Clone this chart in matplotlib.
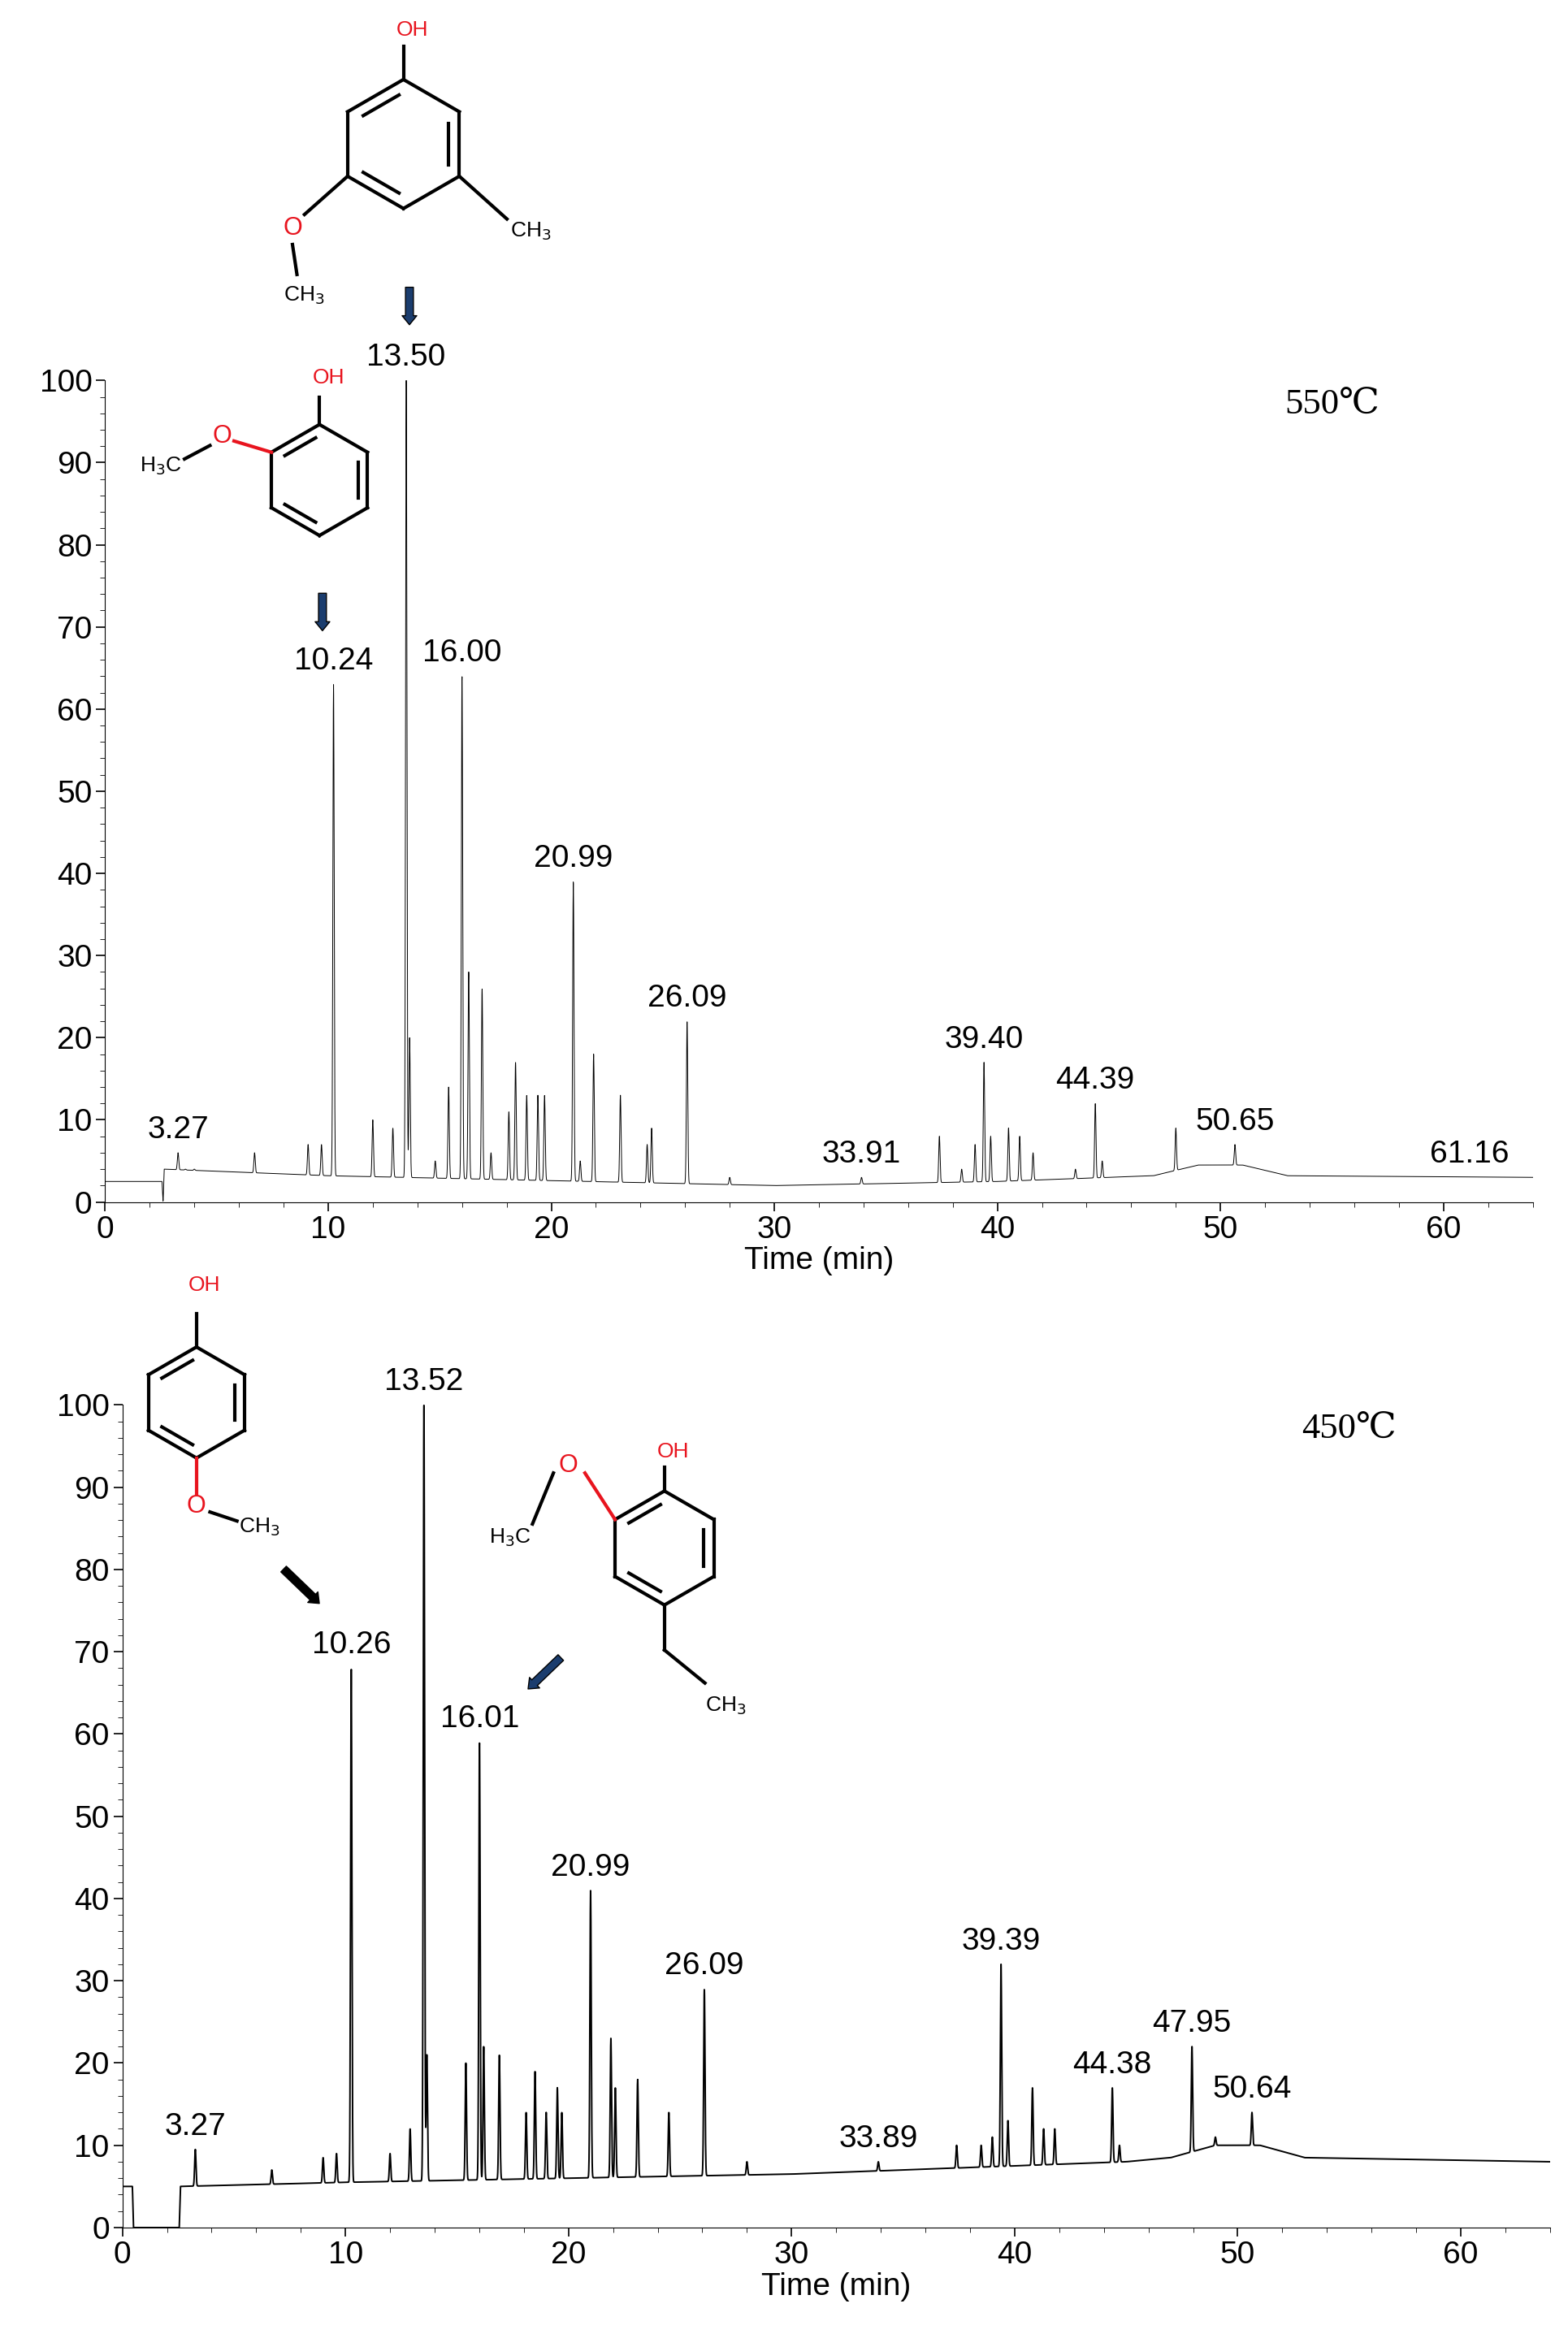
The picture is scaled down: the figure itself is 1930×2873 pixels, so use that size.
import numpy as np
import matplotlib
matplotlib.use("Agg")
import matplotlib.pyplot as plt

plt.rcParams['font.family'] = ['Liberation Sans', 'DejaVu Sans']

# ---- data ----
top_peak_t = [3.27,3.6,4.0,6.7,9.1,9.7,10.24,12.0,12.9,13.50,13.65,14.8,15.4,16.00,16.3,16.9,17.3,18.1,18.4,18.9,19.4,19.7,20.99,21.3,21.9,23.1,24.3,24.5,26.09,28.0,33.91,37.4,38.4,39.0,39.40,39.7,40.5,41.0,41.6,43.5,44.39,44.7,48.0,50.65]
top_peak_h = [6,4,4,6,7,7,63,10,9,100,20,5,14,64,28,26,6,11,17,13,13,13,39,5,18,13,7,9,22,3,3,8,4,7,17,8,9,8,6,4,12,5,9,7]
top_base_t = [0,2.55,2.6,2.65,10,20,30,40,45,47,49,51,53,64]
top_base_h = [2.5,2.5,0,4,3.2,2.6,2.0,2.5,3,3.2,4.5,4.5,3.2,3.0]
top_labels = ["3.27","10.24","13.50","16.00","20.99","26.09","33.91","39.40","44.39","50.65","61.16"]
top_label_pos = [(3.27,6),(10.24,63),(13.50,100),(16.00,64),(20.99,39),(26.09,22),(33.91,3),(39.40,17),(44.39,12),(50.65,7),(61.16,3)]

bot_peak_t = [3.27,6.7,9.0,9.6,10.26,12.0,12.9,13.52,13.65,15.4,16.01,16.2,16.9,18.1,18.5,19.0,19.5,19.7,20.99,21.9,22.1,23.1,24.5,26.09,28.0,33.89,37.4,38.5,39.0,39.39,39.7,40.8,41.3,41.8,44.38,44.7,47.95,49.0,50.64]
bot_peak_h = [9.5,7,8.5,9,68,9,12,100,21,20,59,22,21,14,19,14,17,14,41,23,17,18,14,29,8,8,10,10,11,32,13,17,12,12,17,10,22,11,14]
bot_base_t = [0,0.45,0.5,2.55,2.6,10,20,30,35,40,45,47,49,51,53,64]
bot_base_h = [5,5,0,0,5,5.5,6,6.5,7,7.5,8,8.5,10,10,8.5,8]
bot_labels = ["3.27","10.26","13.52","16.01","20.99","26.09","33.89","39.39","44.38","47.95","50.64"]
bot_label_pos = [(3.27,9.5),(10.26,68),(13.52,100),(16.01,59),(20.99,41),(26.09,29),(33.89,8),(39.39,32),(44.38,17),(47.95,22),(50.64,14)]

W, H = 1931, 2873
fig = plt.figure(figsize=(W/100, H/100), dpi=100)

def trace(bt, bh, pt, ph):
    t = np.linspace(0, 64, 12000)
    base = np.interp(t, bt, bh)
    y = base.copy()
    for c, h in zip(pt, ph):
        b = np.interp(c, bt, bh)
        y += (h - b) * np.exp(-0.5 * ((t - c) / 0.03) ** 2)
    return t, y

def panel(rect, bt, bh, pt, ph, labels, lpos, lw, title):
    ax = fig.add_axes(rect)
    t, y = trace(bt, bh, pt, ph)
    ax.plot(t, y, color="black", lw=lw)
    ax.set_xlim(0, 64); ax.set_ylim(0, 100)
    ax.set_xticks(range(0, 61, 10)); ax.set_yticks(range(0, 101, 10))
    ax.set_yticks(range(0, 101, 2), minor=True)
    ax.set_xticks(range(0, 65, 2), minor=True)
    ax.tick_params(labelsize=28, length=8, width=1.2)
    ax.tick_params(which="minor", length=4)
    for s in ["top", "right"]:
        ax.spines[s].set_visible(False)
    ax.set_xlabel("Time (min)", fontsize=28, labelpad=2)
    for lab, (x, yy) in zip(labels, lpos):
        ax.text(x, yy + 1.0, lab, ha="center", va="bottom", fontsize=28)
    ax.text(55, 97, title, fontsize=32, ha="center", va="center",
            family=["Liberation Serif", "DejaVu Serif", "DejaVu Sans"])
    return ax

panel([0.067, 0.485, 0.91, 0.352], top_base_t, top_base_h, top_peak_t, top_peak_h,
      top_labels, top_label_pos, 0.7, "550℃")
panel([0.078, 0.0456, 0.91, 0.3525], bot_base_t, bot_base_h, bot_peak_t, bot_peak_h,
      bot_labels, bot_label_pos, 1.4, "450℃")

ov = fig.add_axes([0, 0, 1, 1]); ov.set_xlim(0, 1046); ov.set_ylim(1556, 0); ov.axis("off")
RED = "#e8141e"

def ring(cx, cy, r, dbl=(1, 3, 5)):
    ang = np.deg2rad(np.arange(6) * 60 - 90)
    vx, vy = cx + r*np.cos(ang), cy + r*np.sin(ang)
    for i in range(6):
        j = (i+1) % 6
        ov.plot([vx[i], vx[j]], [vy[i], vy[j]], color="black", lw=3)
        if i in dbl:
            k = 0.8
            a = (cx + k*(vx[i]-cx), cy + k*(vy[i]-cy)); b = (cx + k*(vx[j]-cx), cy + k*(vy[j]-cy))
            ax_, ay_ = a[0] + 0.1*(b[0]-a[0]), a[1] + 0.1*(b[1]-a[1])
            bx_, by_ = b[0] - 0.1*(b[0]-a[0]), b[1] - 0.1*(b[1]-a[1])
            ov.plot([ax_, bx_], [ay_, by_], color="black", lw=3)
    return vx, vy

def line(p, q, c="black"):
    ov.plot([p[0], q[0]], [p[1], q[1]], color=c, lw=3)

fs = 19
vx, vy = ring(269, 96, 43)
line((vx[0], vy[0]), (vx[0], vy[0]-22))
ov.text(275, 20, "OH", color=RED, fontsize=fs, ha="center", va="center")
line((vx[4], vy[4]), (203, 143))
ov.text(195, 152, "O", color=RED, fontsize=fs+3, ha="center", va="center")
line((195, 163), (198, 183))
ov.text(203, 197, "CH$_3$", fontsize=fs, ha="center", va="center")
line((vx[2], vy[2]), (338, 146))
ov.text(354, 154, "CH$_3$", fontsize=fs, ha="center", va="center")
vx, vy = ring(213, 320, 37)
line((vx[0], vy[0]), (vx[0], vy[0]-18))
ov.text(219, 252, "OH", color=RED, fontsize=fs, ha="center", va="center")
line((vx[5], vy[5]), (156, 294), RED)
ov.text(148, 291, "O", color=RED, fontsize=fs+3, ha="center", va="center")
line((140, 297), (123, 306))
ov.text(107, 311, "H$_3$C", fontsize=fs, ha="center", va="center")
vx, vy = ring(131, 935, 37)
line((vx[0], vy[0]), (vx[0], vy[0]-22))
ov.text(136, 857, "OH", color=RED, fontsize=fs, ha="center", va="center")
line((vx[3], vy[3]), (vx[3], vy[3]+24), RED)
ov.text(131, 1004, "O", color=RED, fontsize=fs+3, ha="center", va="center")
line((140, 1008), (158, 1014))
ov.text(173, 1018, "CH$_3$", fontsize=fs, ha="center", va="center")
vx, vy = ring(443, 1032, 38)
line((vx[0], vy[0]), (vx[0], vy[0]-16))
ov.text(449, 968, "OH", color=RED, fontsize=fs, ha="center", va="center")
line((vx[5], vy[5]), (390, 982), RED)
ov.text(379, 977, "O", color=RED, fontsize=fs+3, ha="center", va="center")
line((369, 982), (355, 1016))
ov.text(340, 1025, "H$_3$C", fontsize=fs, ha="center", va="center")
line((vx[3], vy[3]), (vx[3], vy[3]+30))
line((vx[3], vy[3]+30), (470, 1122))
ov.text(484, 1137, "CH$_3$", fontsize=fs, ha="center", va="center")

def arr(x0, y0, x1, y1, fc):
    ov.annotate("", xy=(x1, y1), xytext=(x0, y0),
                arrowprops=dict(arrowstyle="simple,head_width=1.3,head_length=0.8,tail_width=0.7",
                                fc=fc, ec="black", lw=1))
arr(273, 190, 273, 218, "#1b3d6e")
arr(215, 394, 215, 422, "#1b3d6e")
arr(188, 1045, 214, 1070, "black")
arr(375, 1104, 351, 1127, "#1b3d6e")

fig.savefig("out.png", dpi=100)
